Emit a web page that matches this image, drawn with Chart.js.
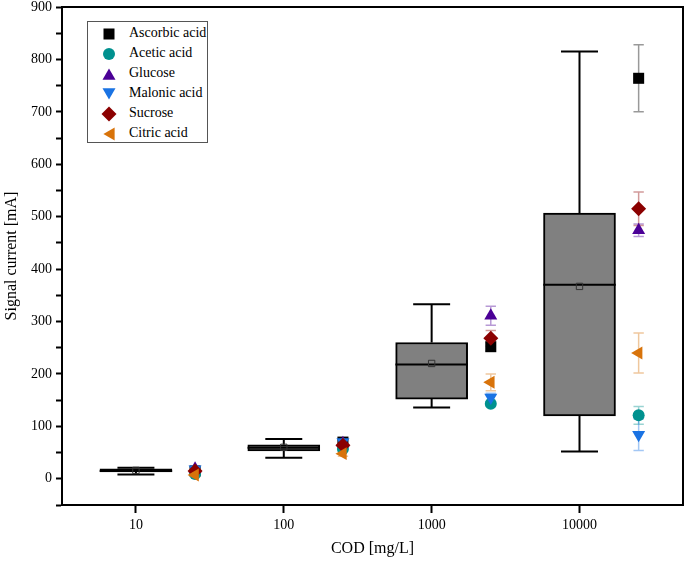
<!DOCTYPE html>
<html>
<head>
<meta charset="utf-8">
<script src="https://cdn.jsdelivr.net/npm/chart.js@4/dist/chart.umd.min.js"></script>
<style>
  html, body { margin: 0; padding: 0; background: #fff; }
  #wrap { position: relative; width: 685px; height: 566px; }
  #legend { position: absolute; left: 87px; top: 21px; width: 121px; height: 122px;
            border: 1px solid #555; background: #fff; box-sizing: border-box;
            font-family: "Liberation Serif", "Times New Roman", serif; font-size: 14px; color: #000; }
  .row { position: absolute; left: 0; height: 20px; line-height: 20px; white-space: nowrap; }
  .row svg { position: absolute; left: 12px; top: 2px; }
  .row span { position: absolute; left: 41px; top: 0; }
</style>
</head>
<body>
<div id="wrap">
  <canvas id="c" width="685" height="566"></canvas>
  <div id="legend"></div>
</div>
<script>
// ---- data ----
const categories = ['10', '100', '1000', '10000'];
const boxMin    = [8, 40, 136, 52];
const boxQ1     = [13, 53, 152, 120];
const boxMedian = [15, 59, 218, 370];
const boxMean   = [16, 60, 220, 367];
const boxQ3     = [19, 65, 260, 507];
const boxMax    = [21, 76, 333, 815];

const seriesNames = ['Ascorbic acid', 'Acetic acid', 'Glucose', 'Malonic acid', 'Sucrose', 'Citric acid'];
const ascorbic    = [15, 70, 252, 764];
const ascorbicErr = [3, 5, 8, 64];
const acetic      = [9, 57, 143, 121];
const aceticErr   = [3, 5, 5, 17];
const glucose     = [19, 68, 311, 474];
const glucoseErr  = [3, 5, 18, 12];
const malonic     = [18, 70, 155, 84];
const malonicErr  = [3, 5, 8, 30];
const sucrose     = [15, 64, 268, 515];
const sucroseErr  = [3, 5, 15, 32];
const citric      = [7, 48, 184, 240];
const citricErr   = [3, 5, 16, 38];

const yTickStep = 100;

// ---- styles ----
const seriesValues = [ascorbic, acetic, glucose, malonic, sucrose, citric];
const seriesErrors = [ascorbicErr, aceticErr, glucoseErr, malonicErr, sucroseErr, citricErr];
const seriesColors = ['#000000', '#00918F', '#4B0096', '#1A73E3', '#8B0000', '#D8730A'];
const seriesStyles = [
  {pointStyle: 'rect', radius: 7.8, rotation: 0},
  {pointStyle: 'circle', radius: 6, rotation: 0},
  {pointStyle: 'triangle', radius: 7.5, rotation: 0},
  {pointStyle: 'triangle', radius: 7.5, rotation: 180},
  {pointStyle: 'rectRot', radius: 7.5, rotation: 0},
  {pointStyle: 'triangle', radius: 7.5, rotation: 270}
];
const markerOffset = 0.4;
const boxHalf = 0.245;
const capHalf = 0.125;
const errCap = 0.035;

function hexA(hex, a) {
  const n = parseInt(hex.slice(1), 16);
  return `rgba(${(n >> 16) & 255},${(n >> 8) & 255},${n & 255},${a})`;
}

// whiskers + median line segments
const whisker = [];
categories.forEach((c, i) => {
  const x = i + 1;
  whisker.push({x, y: boxQ3[i]}, {x, y: boxMax[i]}, {x, y: null});
  whisker.push({x, y: boxQ1[i]}, {x, y: boxMin[i]}, {x, y: null});
  whisker.push({x: x - capHalf, y: boxMax[i]}, {x: x + capHalf, y: boxMax[i]}, {x, y: null});
  whisker.push({x: x - capHalf, y: boxMin[i]}, {x: x + capHalf, y: boxMin[i]}, {x, y: null});
  whisker.push({x: x - boxHalf, y: boxMedian[i]}, {x: x + boxHalf, y: boxMedian[i]}, {x, y: null});
});

const datasets = [];
datasets.push({
  type: 'bar', label: 'box', order: 30,
  data: categories.map((c, i) => ({x: i + 1, y: [boxQ1[i], boxQ3[i]]})),
  backgroundColor: '#808080', borderColor: '#000', borderWidth: 2, borderSkipped: false,
  barThickness: 72, grouped: false
});
datasets.push({
  type: 'scatter', label: 'whisker', order: 29, showLine: true, spanGaps: false,
  data: whisker, borderColor: '#000', borderWidth: 2, pointRadius: 0
});
datasets.push({
  type: 'scatter', label: 'mean', order: 28,
  data: categories.map((c, i) => ({x: i + 1, y: boxMean[i]})),
  pointStyle: 'rect', pointRadius: 4.5, borderColor: '#333', borderWidth: 1,
  backgroundColor: 'rgba(0,0,0,0)'
});

seriesNames.forEach((name, s) => {
  const err = [];
  categories.forEach((c, i) => {
    const x = i + 1 + markerOffset, v = seriesValues[s][i], e = seriesErrors[s][i];
    err.push({x, y: v - e}, {x, y: v + e}, {x, y: null});
    err.push({x: x - errCap, y: v - e}, {x: x + errCap, y: v - e}, {x, y: null});
    err.push({x: x - errCap, y: v + e}, {x: x + errCap, y: v + e}, {x, y: null});
  });
  datasets.push({
    type: 'scatter', label: name + ' err', order: 20 - s, showLine: true, spanGaps: false,
    data: err, borderColor: hexA(seriesColors[s], 0.4), borderWidth: 1.5, pointRadius: 0
  });
});
seriesNames.forEach((name, s) => {
  datasets.push({
    type: 'scatter', label: name, order: 10 - s,
    data: categories.map((c, i) => ({x: i + 1 + markerOffset, y: seriesValues[s][i]})),
    pointStyle: seriesStyles[s].pointStyle, pointRadius: seriesStyles[s].radius,
    rotation: seriesStyles[s].rotation,
    backgroundColor: seriesColors[s], borderColor: seriesColors[s], borderWidth: 0
  });
});

const frame = {
  id: 'frame',
  afterDraw(chart) {
    const a = chart.chartArea, ctx = chart.ctx;
    ctx.save();
    ctx.strokeStyle = '#000'; ctx.lineWidth = 2;
    ctx.beginPath();
    ctx.moveTo(a.left, a.top); ctx.lineTo(a.right, a.top); ctx.lineTo(a.right, a.bottom);
    ctx.stroke();
    ctx.restore();
  }
};

const serif = '"Liberation Serif", "Times New Roman", serif';
new Chart(document.getElementById('c'), {
  type: 'scatter',
  data: { datasets },
  plugins: [frame],
  options: {
    responsive: false, animation: false, events: [],
    layout: { autoPadding: false, padding: { top: 7, right: 2, left: 0, bottom: 0 } },
    plugins: { legend: { display: false }, tooltip: { enabled: false } },
    scales: {
      x: {
        type: 'linear', min: 0.5, max: 4.7, offset: false,
        afterBuildTicks: (sc) => { sc.ticks = categories.map((c, i) => ({value: i + 1})); },
        afterFit: (sc) => { sc.height = 61; sc.paddingLeft = 0; sc.paddingRight = 0; },
        ticks: { callback: (v) => categories[v - 1] ?? '', color: '#000', font: {family: serif, size: 14}, padding: 4, autoSkip: false, maxRotation: 0 },
        grid: { offset: false, drawOnChartArea: false, tickLength: 8, tickWidth: 2, tickColor: '#000' },
        border: { display: true, color: '#000', width: 2 },
        title: { display: true, text: 'COD [mg/L]', color: '#000', font: {family: serif, size: 16}, padding: {top: 4, bottom: 8} }
      },
      y: {
        type: 'linear', min: -50, max: 900,
        afterFit: (sc) => { sc.width = 62; sc.paddingTop = 0; sc.paddingBottom = 0; },
        ticks: { stepSize: yTickStep / 2, callback: (v) => (v % yTickStep === 0 && v >= 0 ? v : ''), color: '#000', font: {family: serif, size: 14}, padding: 4 },
        grid: { drawOnChartArea: false, tickLength: 6, tickWidth: 2, tickColor: '#000' },
        border: { display: true, color: '#000', width: 2 },
        title: { display: true, text: 'Signal current [mA]', color: '#000', font: {family: serif, size: 16}, padding: {top: 2, bottom: 2} }
      }
    }
  }
});

// HTML legend built from the series
function iconSvg(s) {
  const col = seriesColors[s], st = seriesStyles[s];
  let shape = '';
  if (st.pointStyle === 'rect') shape = `<rect x="3.5" y="3.5" width="11" height="11" fill="${col}"/>`;
  else if (st.pointStyle === 'circle') shape = `<circle cx="9" cy="9" r="6" fill="${col}"/>`;
  else if (st.pointStyle === 'rectRot') shape = `<polygon points="9,1.5 16.5,9 9,16.5 1.5,9" fill="${col}"/>`;
  else shape = `<polygon points="9,1.5 15.5,12.75 2.5,12.75" fill="${col}" transform="rotate(${st.rotation} 9 9) translate(0 1.9)"/>`;
  return `<svg width="18" height="18" viewBox="0 0 18 18">${shape}</svg>`;
}
const lg = document.getElementById('legend');
seriesNames.forEach((name, s) => {
  const r = document.createElement('div');
  r.className = 'row';
  r.style.top = (1 + 20 * s) + 'px';
  r.innerHTML = iconSvg(s) + `<span>${name}</span>`;
  lg.appendChild(r);
});
</script>
</body>
</html>
